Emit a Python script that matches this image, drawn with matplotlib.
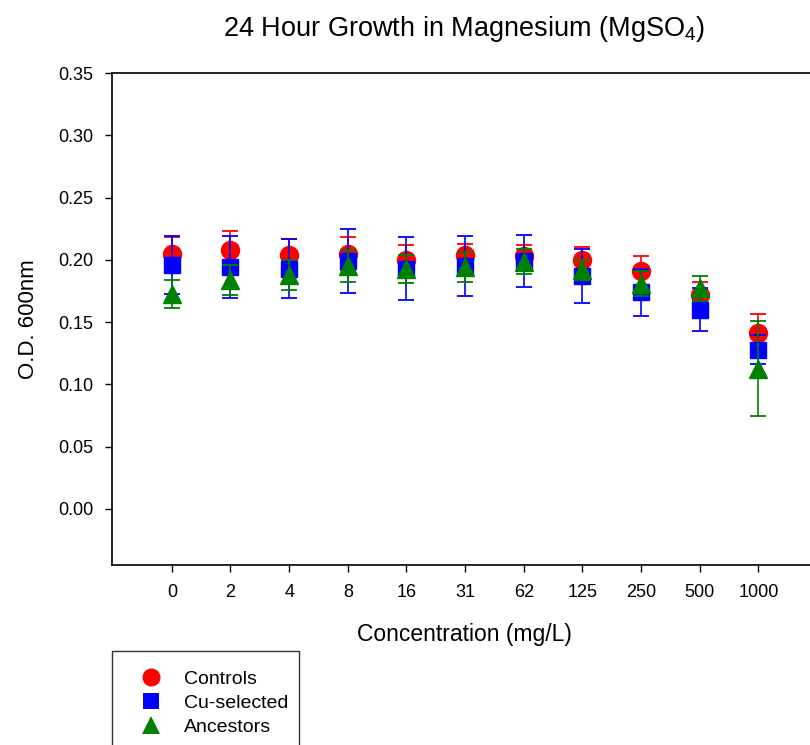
import matplotlib
matplotlib.use("Agg")
import matplotlib.pyplot as plt
from matplotlib.lines import Line2D

plt.rcParams["font.family"] = ["Liberation Sans", "DejaVu Sans"]
plt.rcParams["mathtext.fontset"] = "custom"
plt.rcParams["mathtext.rm"] = "Liberation Sans"
plt.rcParams["mathtext.default"] = "regular"

# concentrations (categorical x positions)
conc_labels = ["0", "2", "4", "8", "16", "31", "62", "125", "250", "500", "1000"]

# mean O.D. 600nm and error per group
controls = [0.205, 0.208, 0.204, 0.205, 0.200, 0.204, 0.203, 0.200, 0.191, 0.172, 0.1415]
controls_err = [0.013, 0.015, 0.013, 0.013, 0.012, 0.009, 0.009, 0.010, 0.012, 0.010, 0.015]

cu_selected = [0.196, 0.194, 0.193, 0.199, 0.193, 0.195, 0.199, 0.187, 0.174, 0.160, 0.128]
cu_selected_err = [0.0235, 0.025, 0.024, 0.026, 0.025, 0.024, 0.021, 0.022, 0.019, 0.0175, 0.012]

ancestors = [0.1725, 0.184, 0.1875, 0.195, 0.1925, 0.1945, 0.1985, 0.192, 0.181, 0.177, 0.1125]
ancestors_err = [0.011, 0.012, 0.012, 0.013, 0.011, 0.012, 0.010, 0.008, 0.010, 0.010, 0.038]

series = [
    ("Controls", controls, controls_err, "#ff0000", "o", 13),
    ("Cu-selected", cu_selected, cu_selected_err, "#0000ff", "s", 12),
    ("Ancestors", ancestors, ancestors_err, "#008000", "^", 13),
]

fig = plt.figure(figsize=(8.1, 7.45), dpi=100)
ax = fig.add_axes([112 / 810, 1 - 565 / 745, 705 / 810, 492 / 745])

x = list(range(len(conc_labels)))
handles = []
for i, (name, vals, errs, color, marker, ms) in enumerate(series):
    _, caps, _ = ax.errorbar(x, vals, yerr=errs, fmt=marker, color=color,
                             ecolor=color, markersize=ms, elinewidth=1.2,
                             capsize=5.5, zorder=2 + i)
    for c in caps:
        c.set_markeredgewidth(1.3)
    handles.append(Line2D([], [], linestyle="none", marker=marker, color=color,
                          markersize=ms, markeredgewidth=0, label=name))

ax.set_xlim(-1.02, 11)
ax.set_ylim(-0.045, 0.35)
ax.set_xticks(x)
ax.set_xticklabels(conc_labels)
ax.set_yticks([0.00, 0.05, 0.10, 0.15, 0.20, 0.25, 0.30, 0.35])
ax.set_yticklabels([f"{v:.2f}" for v in ax.get_yticks()])
ax.tick_params(direction="out", length=5, width=1, labelsize=13, pad=8.5)
for s in ax.spines.values():
    s.set_linewidth(1.2)

ax.set_xlabel("Concentration (mg/L)", fontsize=16.5, labelpad=16)
ax.set_ylabel("O.D. 600nm", fontsize=16, labelpad=14)

fig.text(464 / 810, 1 - 29 / 745, "24 Hour Growth in Magnesium (MgSO$_4$)",
         ha="center", va="center", fontsize=19.5)

leg = fig.legend(handles=handles, loc="upper left",
                 bbox_to_anchor=(112 / 810, 0, 187 / 810, 1 - 651 / 745),
                 mode="expand", fontsize=14, frameon=True, fancybox=False,
                 edgecolor="black", borderpad=1.0, labelspacing=0.33,
                 handlelength=2.0, handletextpad=0.72, borderaxespad=0)
leg.get_frame().set_linewidth(1.0)

fig.savefig("out.png", dpi=100)
